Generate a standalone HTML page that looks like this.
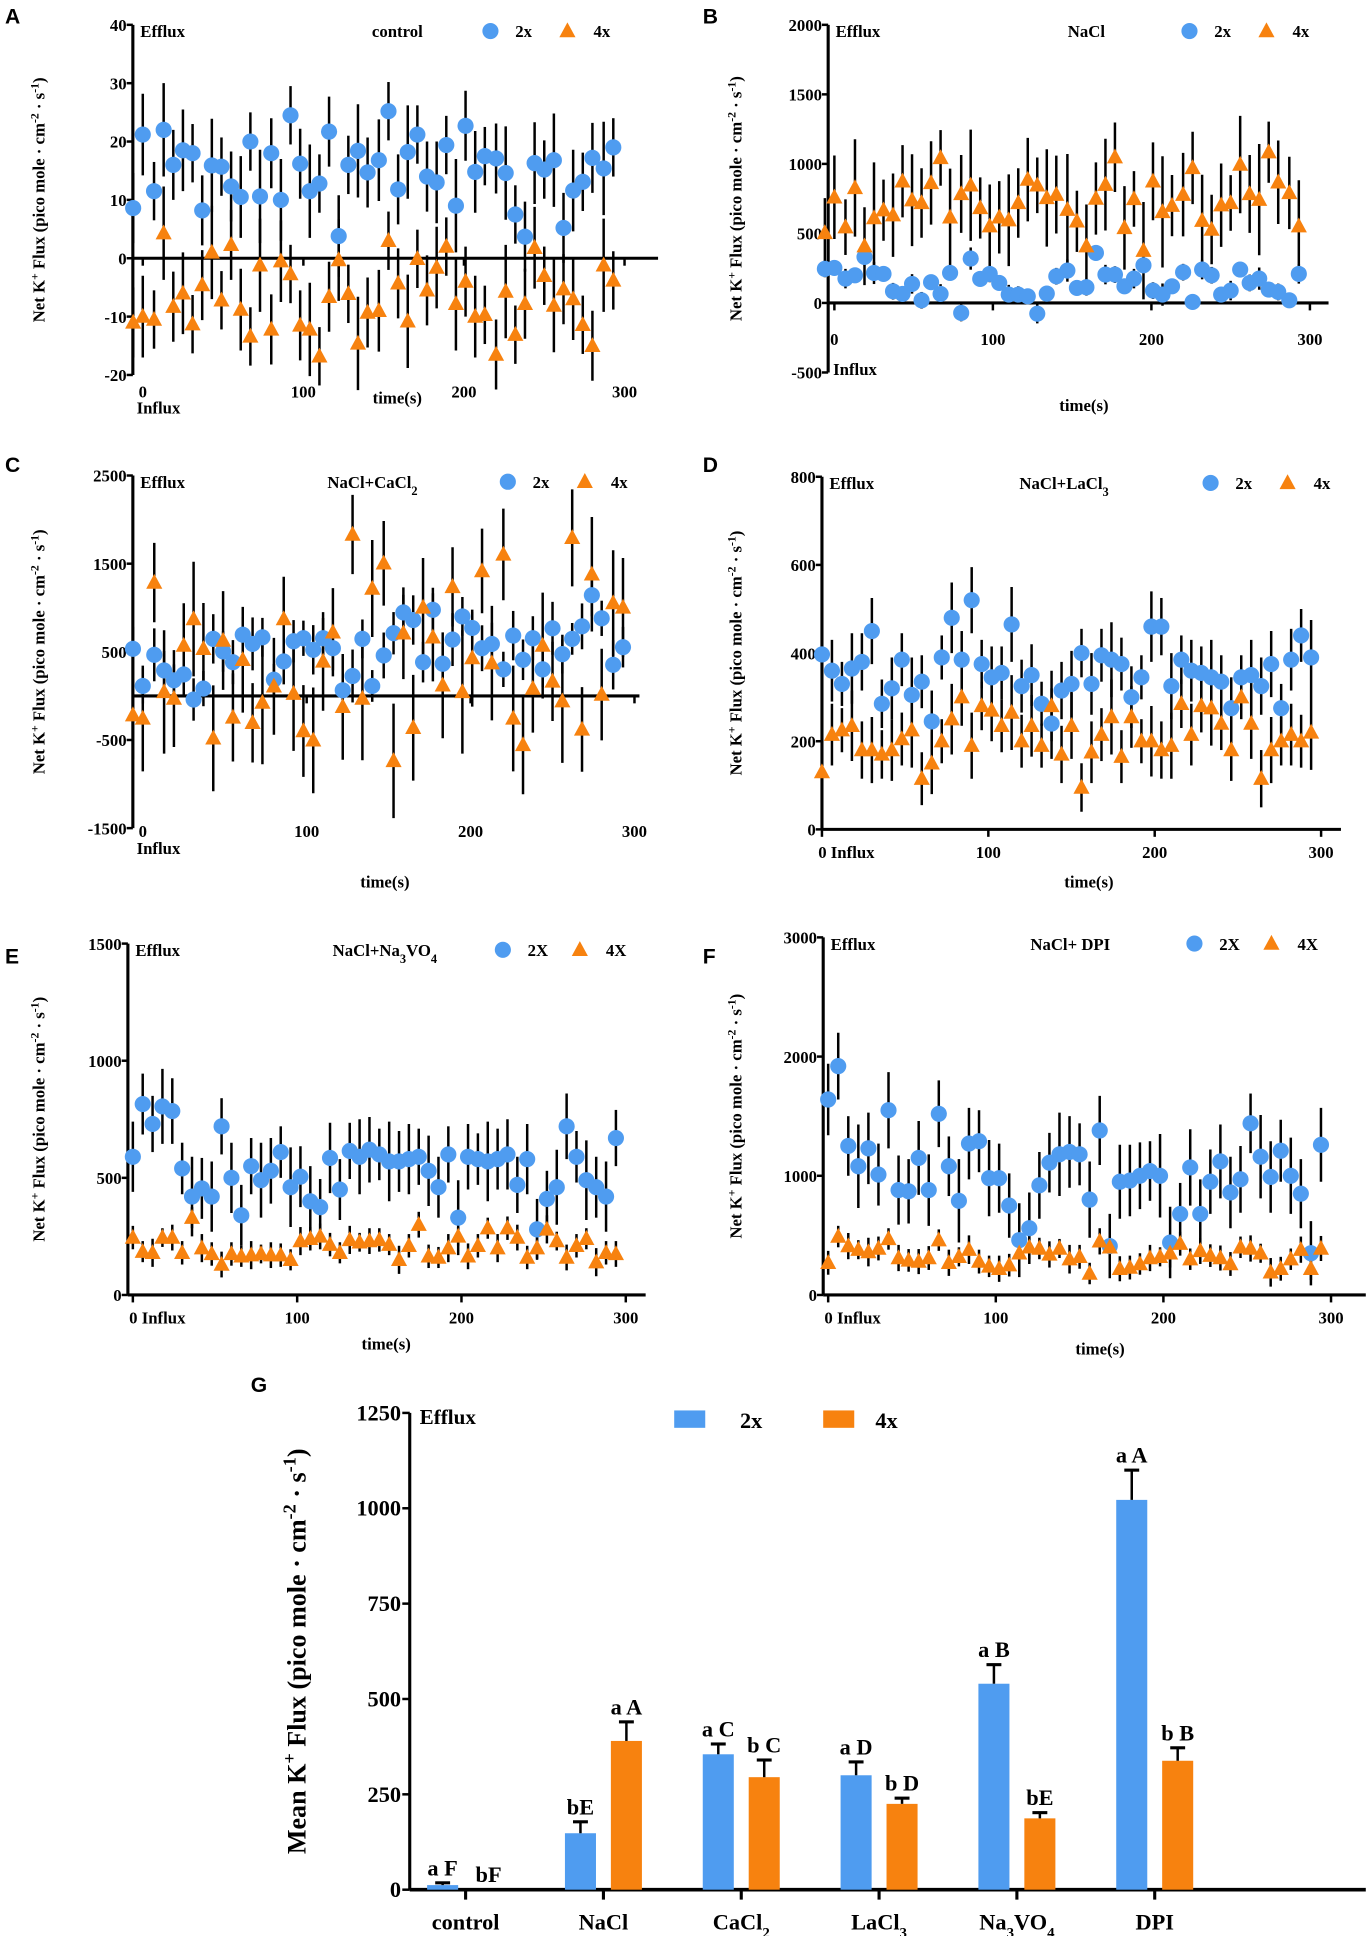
<!DOCTYPE html>
<html><head><meta charset="utf-8"><style>
html,body{margin:0;padding:0;background:#fff}
svg{display:block}
text{font-family:"Liberation Serif",serif;font-weight:bold;fill:#000}
.lt{font-family:"Liberation Sans",sans-serif;font-weight:bold;font-size:17px}
</style></head><body>
<svg id="fig" width="1372" height="1936" viewBox="0 0 1105 1559.3" preserveAspectRatio="none" xmlns="http://www.w3.org/2000/svg"></svg>
<script>
const TA=[-6,0,7,13,19,25,31,37,43,49,55,61,67,73,80,86,92,98,104,110,116,122,128,134,140,147,153,159,165,171,177,183,189,195,201,207,213,220,226,232,238,244,250,256,262,268,274,280,287,293];
const TD=[0,6,12,18,24,30,36,42,48,54,60,66,72,78,84,90,96,102,108,114,120,126,132,138,144,150,156,162,168,174,180,186,192,198,204,210,216,222,228,234,240,246,252,258,264,270,276,282,288,294];
const A2=[8.6,21.2,11.5,22,16,18.5,18,8.2,15.9,15.7,12.3,10.5,20,10.6,18,10,24.5,16.2,11.5,12.8,21.7,3.8,16,18.4,14.7,16.8,25.2,11.8,18.2,21.2,14,13,19.4,9,22.7,14.8,17.5,17.1,14.6,7.5,3.7,16.3,15.2,16.8,5.2,11.6,13.1,17.2,15.4,19];
const A4=[-11,-10,-10.5,4.3,-8.3,-6,-11.3,-4.6,1,-7.2,2.3,-8.8,-13.4,-1.2,-12.2,-0.5,-2.7,-11.5,-12.2,-16.8,-6.6,-0.3,-6.1,-14.6,-9.3,-9,3,-4.3,-10.8,-0.1,-5.5,-1.6,2,-7.8,-4,-10,-9.7,-16.5,-5.7,-13.1,-7.8,1.8,-3,-8.1,-5.3,-7,-11.4,-15,-1.2,-3.8];
const B2=[245,252,175,199,331,216,209,84,65,137,19,149,65,216,-72,319,173,209,144,60,60,48,-77,67,192,233,108,113,360,204,204,120,175,271,89,60,120,221,7,240,199,60,89,240,144,175,96,79,19,209];
const B4=[504,760,545,827,408,611,667,631,875,739,719,863,1043,616,784,846,683,552,616,595,719,887,846,755,779,671,587,408,751,851,1048,540,748,376,875,655,700,779,971,592,528,703,719,995,784,743,1084,868,791,552];
const C2=[534,113,466,289,177,244,-41,83,647,504,383,695,590,665,184,391,620,654,523,654,541,64,226,647,113,459,711,947,861,383,977,365,639,902,771,541,590,301,684,410,654,301,767,474,647,789,1143,880,353,553];
const C4=[-218,-256,1286,45,-30,571,872,534,-481,628,-244,410,-305,-75,109,872,26,-398,-504,391,722,-124,1831,-30,1218,1504,-737,711,-361,1004,665,120,1237,45,429,1417,372,1605,-256,-556,83,571,165,-60,1793,-380,1380,15,1053,1004];
const D2=[397,360,330,365,380,450,285,320,385,305,335,245,390,480,385,520,375,345,355,465,325,350,285,240,315,330,400,330,395,385,375,300,345,460,460,325,385,360,355,345,335,275,345,350,325,375,275,385,440,390];
const D4=[130,215,225,235,180,180,170,180,205,225,115,150,200,250,300,190,280,270,235,265,200,235,190,280,170,235,95,175,215,255,165,255,200,200,180,190,285,215,280,275,240,180,300,240,115,180,200,215,200,220];
const E2=[590,815,730,805,785,540,420,455,420,720,500,340,550,490,530,610,460,505,400,375,585,450,615,590,620,600,570,570,580,590,530,460,600,330,590,580,570,580,600,470,580,280,410,460,720,590,490,460,420,670];
const E4=[245,185,180,245,245,180,330,200,175,130,175,165,170,175,170,170,150,230,240,250,215,180,235,225,230,235,215,150,210,300,165,160,200,250,165,210,285,200,285,245,160,200,280,230,160,210,240,140,180,175];
const F2=[1640,1920,1250,1080,1230,1010,1550,880,870,1150,880,1520,1080,790,1270,1290,980,980,750,460,560,920,1110,1180,1200,1180,800,1380,410,950,960,1000,1040,1000,440,680,1070,680,950,1120,860,970,1440,1160,990,1210,1000,850,350,1260];
const F4=[270,490,410,380,360,390,470,310,290,280,310,460,270,320,380,280,240,220,250,350,400,390,340,390,300,320,180,450,400,220,230,260,310,320,350,430,300,370,330,310,260,400,390,350,190,220,300,380,220,390];
const ERRA=[6,7,5,8,6,7,5,6,8,5], ERRB2=[60,50,70,40,60,80,50,60,45,70], ERRB4=[250,300,200,350,280,400,220,300,260,330];
const ERRC2=[250,200,300,220,180,260,240,200,280,230], ERRC4=[500,600,450,700,550,480,650,520,600,560];
const ERRD=[60,70,50,80,65,75,55,70,60,85], ERRE2=[150,130,120,160,140,110,170,130,150,120], ERRE4=[50,45,60,40,55,50,45,60,50,55];
const ERRF2=[300,280,250,350,300,260,320,290,270,310], ERRF4=[100,90,110,80,120,100,90,110,95,105];
const gCats=['control','NaCl','CaCl2','LaCl3','Na3VO4','DPI'];
const g2=[12,148,355,300,540,1022], g2e=[18,178,382,335,590,1100];
const g4=[0,390,295,225,187,338], g4e=[0,440,340,240,202,372];
const g2lab=['a F','bE','a C','a D','a B','a A'], g4lab=['bF','a A','b C','b D','bE','b B'];

const S=document.getElementById('fig'), NS='http://www.w3.org/2000/svg';
function mk(tag,at,parent,txt){const e=document.createElementNS(NS,tag);for(const k in at)e.setAttribute(k,at[k]);if(txt!==undefined)e.textContent=txt;(parent||S).appendChild(e);return e;}
function ylabel(g,x,y,fs,prefix){
  const t=mk('text',{x:0,y:0,transform:`translate(${x},${y}) rotate(-90)`,'text-anchor':'middle','font-size':fs},g);
  
  const parts=[[prefix+' K',0],['+',1],[' Flux (pico mole · cm',0],['-2',1],[' · s',0],['-1',1],[')',0]];
  parts.forEach(p=>{mk('tspan',p[1]?{'baseline-shift':'super','font-size':fs*0.7}:{},t,p[0]);});
}
function panel(P){
  const g=mk('g',{});
  const sy=v=>P.yB+(v-P.ymin)/(P.ymax-P.ymin)*(P.yT-P.yB);
  const sx=t=>P.x0+t*(P.x300-P.x0)/300;
  const y0=sy(0);
  const lt=mk('text',{x:P.lx,y:P.ly,class:'lt'},g,P.letter);
  const ya=mk('line',{x1:P.ax,y1:P.yT,x2:P.ax,y2:P.yB,stroke:'#000','stroke-width':2.5},g);
  P.yt.forEach(v=>{mk('line',{x1:P.ax-5,y1:sy(v),x2:P.ax,y2:sy(v),stroke:'#000','stroke-width':2},g);
    const t=mk('text',{x:P.ax-5,y:sy(v)+5,'text-anchor':'end','font-size':13.5},g,String(v));});
  const xa=mk('line',{x1:P.ax,y1:y0,x2:P.xend,y2:y0,stroke:'#000','stroke-width':2.5},g);
  [0,100,200,300].forEach(v=>{mk('line',{x1:sx(v),y1:y0,x2:sx(v),y2:y0+6,stroke:'#000','stroke-width':2},g);
    const t=mk('text',{x:sx(v)+(v==0&&P.zeroInf?-3:0),y:P.xly,'text-anchor':v==0&&P.zeroInf?'start':'middle','font-size':13.5},g,v==0&&P.zeroInf?'0 Influx':String(v));});
  if(!P.zeroInf){const t=mk('text',{x:P.infx,y:P.infy,'font-size':13.5},g,'Influx');}
  const xt=mk('text',{x:P.tx,y:P.ty,'text-anchor':'middle','font-size':13.5},g,'time(s)');
  const ef=mk('text',{x:P.ax+6,y:P.yT+10,'font-size':13.5},g,'Efflux');
  const ti=mk('text',{x:P.tix,y:P.yT+10,'text-anchor':'middle','font-size':13.5},g);
  P.title.forEach(p=>mk('tspan',p[1]?{'baseline-shift':'sub','font-size':10}:{},ti,p[0]));
  ylabel(g,P.ylx,(P.yT+P.yB)/2,13.5,'Net');
  const ser=[[P.s2,P.e2,'c'],[P.s4,P.e4,'t']];
  ser.forEach(([vals,err,m])=>{
    for(let i=0;i<Math.min(vals.length,P.t.length);i++){
      const x=sx(P.t[i]),v=vals[i],e=err[i%err.length];
      const eb=mk('line',{x1:x,y1:sy(v-e),x2:x,y2:sy(v+e),stroke:'#000','stroke-width':2},g);
      
    }});
  ser.forEach(([vals,err,m])=>{
    for(let i=0;i<Math.min(vals.length,P.t.length);i++){
      const x=sx(P.t[i]),y=sy(vals[i]);let el;
      if(m=='c'){el=mk('circle',{cx:x,cy:y,r:6.5,fill:'#4f9cf0'},g);}
      else{el=mk('polygon',{points:`${x},${y-7} ${x-6.5},${y+5} ${x+6.5},${y+5}`,fill:'#f7820f'},g);}
      
    }});
  const L=P.leg,X=P.cap;
  const lc=mk('circle',{cx:L,cy:P.yT+5,r:6.5,fill:'#4f9cf0'},g);
  const l2=mk('text',{x:L+20,y:P.yT+10,'font-size':13.5},g,X?'2X':'2x');
  const yy=P.yT+5;const lt4=mk('polygon',{points:`${L+62},${yy-7} ${L+55.5},${yy+5} ${L+68.5},${yy+5}`,fill:'#f7820f'},g);
  const l4=mk('text',{x:L+83,y:P.yT+10,'font-size':13.5},g,X?'4X':'4x');
}
panel({letter:'A',lx:4,ly:19,ax:107,yT:20,yB:302,ymin:-20,ymax:40,x0:115,x300:503,xend:530,yt:[40,30,20,10,0,-10,-20],xly:320,infx:110,infy:333,tx:320,ty:325,tix:320,title:[['control',0]],ylx:36,t:TA,s2:A2,e2:ERRA,s4:A4,e4:ERRA,leg:395});
panel({letter:'B',lx:566,ly:19,ax:667,yT:20,yB:300,ymin:-500,ymax:2000,x0:672,x300:1055,xend:1070,yt:[2000,1500,1000,500,0,-500],xly:278,infx:671,infy:302,tx:873,ty:331,tix:875,title:[['NaCl',0]],ylx:597,t:TA,s2:B2,e2:ERRB2,s4:B4,e4:ERRB4,leg:958});
panel({letter:'C',lx:4,ly:380,ax:107,yT:383,yB:667,ymin:-1500,ymax:2500,x0:115,x300:511,xend:515,yt:[2500,1500,500,-500,-1500],xly:674,infx:110,infy:688,tx:310,ty:715,tix:300,title:[['NaCl+CaCl',0],['2',1]],ylx:36,t:TA,s2:C2,e2:ERRC2,s4:C4,e4:ERRC4,leg:409});
panel({letter:'D',lx:566,ly:380,ax:662,yT:384,yB:668,ymin:0,ymax:800,x0:662,x300:1064,xend:1080,yt:[800,600,400,200,0],xly:691,zeroInf:1,tx:877,ty:715,tix:857,title:[['NaCl+LaCl',0],['3',1]],ylx:597,t:TD,s2:D2,e2:ERRD,s4:D4,e4:ERRD,leg:975});
panel({letter:'E',lx:4,ly:776,ax:103,yT:760,yB:1043,ymin:0,ymax:1500,x0:107,x300:504,xend:520,yt:[1500,1000,500,0],xly:1066,zeroInf:1,tx:311,ty:1087,tix:310,title:[['NaCl+Na',0],['3',1],['VO',0],['4',1]],ylx:36,t:TD,s2:E2,e2:ERRE2,s4:E4,e4:ERRE4,leg:405,cap:1});
panel({letter:'F',lx:566,ly:776,ax:663,yT:755,yB:1043,ymin:0,ymax:3000,x0:667,x300:1072,xend:1100,yt:[3000,2000,1000,0],xly:1066,zeroInf:1,tx:886,ty:1091,tix:862,title:[['NaCl+ DPI',0]],ylx:597,t:TD,s2:F2,e2:ERRF2,s4:F4,e4:ERRF4,leg:962,cap:1});

// Panel G
(function(){
  const g=mk('g',{});
  const ax=330,yT=1138,yB=1522,ymax=1250,cx0=375,cdx=111;
  const sy=v=>yB-v/ymax*(yB-yT);
  const lt=mk('text',{x:202,y:1121,class:'lt'},g,'G');
  const ya=mk('line',{x1:ax,y1:yT,x2:ax,y2:yB,stroke:'#000','stroke-width':2.5},g);
  [0,250,500,750,1000,1250].forEach(v=>{mk('line',{x1:ax-6,y1:sy(v),x2:ax,y2:sy(v),stroke:'#000','stroke-width':2},g);
    const t=mk('text',{x:ax-7,y:sy(v)+6,'text-anchor':'end','font-size':18},g,String(v));});
  const xa=mk('line',{x1:ax,y1:yB,x2:1100,y2:yB,stroke:'#000','stroke-width':3},g);
  const ef=mk('text',{x:338,y:1147,'font-size':17},g,'Efflux');
  ylabel(g,246,1330,21,'Mean');
  const subs={control:[['control',0]],NaCl:[['NaCl',0]],CaCl2:[['CaCl',0],['2',1]],LaCl3:[['LaCl',0],['3',1]],Na3VO4:[['Na',0],['3',1],['VO',0],['4',1]],DPI:[['DPI',0]]};
  gCats.forEach((c,i)=>{
    const cx=cx0+i*cdx;
    mk('line',{x1:cx,y1:yB,x2:cx,y2:yB+8,stroke:'#000','stroke-width':2.5},g);
    const t=mk('text',{x:cx,y:1554,'text-anchor':'middle','font-size':18},g);
    subs[c].forEach(p=>mk('tspan',p[1]?{'baseline-shift':'sub','font-size':12}:{},t,p[0]));
    [[g2[i],g2e[i],g2lab[i],cx-31,'#4f9cf0','bar-2x-'],[g4[i],g4e[i],g4lab[i],cx+6,'#f7820f','bar-4x-']].forEach(([v,e,lab,x,col,nm])=>{
      const b=mk('rect',{x:x,y:sy(v),width:25,height:yB-sy(v),fill:col},g);
      if(e>v){mk('line',{x1:x+12.5,y1:sy(v),x2:x+12.5,y2:sy(e),stroke:'#000','stroke-width':2},g);mk('line',{x1:x+6.5,y1:sy(e),x2:x+18.5,y2:sy(e),stroke:'#000','stroke-width':2.5},g);}
      const top=Math.max(v,e);
      const la=mk('text',{x:x+12.5,y:sy(top)-6,'text-anchor':'middle','font-size':18},g,lab);
    });
  });
  const r2=mk('rect',{x:543,y:1136,width:25,height:14,fill:'#4f9cf0'},g);
  const t2=mk('text',{x:596,y:1150,'font-size':18},g,'2x');
  const r4=mk('rect',{x:663,y:1136,width:25,height:14,fill:'#f7820f'},g);
  const t4=mk('text',{x:705,y:1150,'font-size':18},g,'4x');
})();
</script>
</body></html>
